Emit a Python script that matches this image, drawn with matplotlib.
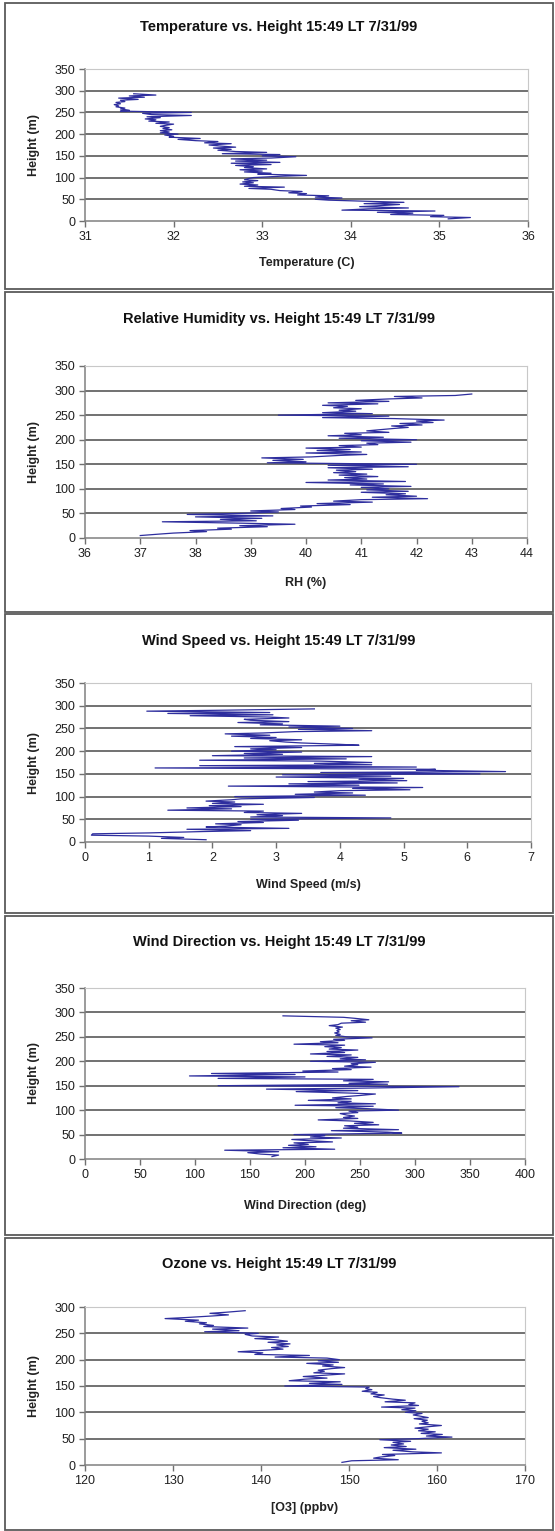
import numpy as np
import matplotlib.pyplot as plt
from matplotlib.patches import Rectangle

plt.rcParams['font.family'] = ['Liberation Sans', 'DejaVu Sans']

# sounding heights (m), shared by all five profiles
height = [5, 8, 10, 13, 15, 18, 20, 23, 25, 28,
          30, 33, 35, 38, 40, 43, 45, 48, 50, 53,
          55, 58, 60, 63, 65, 68, 70, 73, 75, 78,
          80, 83, 85, 88, 90, 93, 95, 98, 100, 103,
          105, 108, 110, 113, 115, 118, 120, 123, 125, 128,
          130, 133, 135, 138, 140, 143, 145, 148, 150, 153,
          155, 158, 160, 163, 165, 168, 170, 173, 175, 178,
          180, 183, 185, 188, 190, 193, 195, 198, 200, 203,
          205, 208, 210, 213, 215, 218, 220, 223, 225, 228,
          230, 233, 235, 238, 240, 243, 245, 248, 250, 253,
          255, 258, 260, 263, 265, 268, 270, 273, 275, 278,
          280, 283, 285, 288, 290, 293]

temperature = [35.1, 35.35, 34.9, 35.05, 34.45, 34.7, 34.3, 34.95, 33.9, 34.2,
               34.65, 34.1, 34.3, 34.55, 34.15, 34.6, 34.25, 33.75, 33.6, 33.9,
               33.6, 33.75, 33.4, 33.5, 33.3, 33.45, 33.2, 33.1, 32.85, 33.25,
               32.8, 32.95, 32.75, 32.9, 32.78, 32.95, 32.8, 32.85, 32.9, 33.2,
               33.5, 32.95, 33.1, 32.8, 33.0, 32.75, 33.05, 32.8, 32.9, 32.7,
               33.1, 32.65, 33.2, 32.7, 33.05, 32.65, 33.1, 33.38, 33.0, 33.2,
               32.55, 33.05, 32.7, 32.5, 32.65, 32.45, 32.7, 32.5, 32.4, 32.65,
               32.35, 32.5, 32.25, 32.05, 32.3, 31.95, 32.0, 31.9, 32.05, 31.85,
               31.95, 31.85, 31.98, 31.88, 31.95, 31.85, 31.9, 32.0, 31.8, 31.95,
               31.72, 31.8, 31.68, 31.85, 31.7, 32.2, 31.75, 31.65, 32.2, 31.4,
               31.5, 31.4, 31.45, 31.35, 31.38, 31.33, 31.4, 31.35, 31.45, 31.4,
               31.6, 31.38, 31.67, 31.5, 31.8, 31.55]

rh = [37.0, 37.35, 37.6, 38.2, 37.9, 38.65, 38.4, 39.3, 38.8, 39.8,
      38.9, 37.4, 39.1, 38.45, 39.2, 38.0, 39.4, 37.85, 38.8, 39.5,
      39.0, 39.8, 39.55, 40.1, 39.9, 40.8, 40.2, 41.2, 40.5, 41.0,
      42.2, 41.2, 42.0, 41.45, 41.8, 41.0, 41.85, 41.1, 41.5, 41.0,
      41.9, 40.8, 41.4, 40.0, 41.8, 40.4, 41.1, 40.7, 41.3, 40.6,
      41.1, 40.5, 40.9, 40.55, 41.2, 40.4, 41.85, 40.4, 42.0, 39.3,
      40.0, 39.4, 39.95, 39.2, 40.1, 40.6, 41.1, 40.0, 41.0, 40.2,
      40.8, 40.0, 41.0, 40.6, 41.3, 41.1, 41.9, 41.0, 42.0, 40.6,
      41.4, 40.4, 41.0, 40.7, 41.5, 41.1, 41.3, 41.6, 41.85, 41.55,
      42.1, 41.7, 42.3, 42.0, 42.5, 41.6, 40.3, 41.5, 39.5, 41.2,
      40.3, 40.9, 40.6, 41.0, 40.5, 40.75, 40.3, 41.3, 40.4, 41.5,
      40.9, 41.5, 42.1, 41.6, 42.7, 43.0]

wind_speed = [1.9, 1.2, 1.55, 1.0, 0.1, 0.12, 1.0, 1.85, 2.6, 1.6,
              3.2, 1.9, 2.2, 2.45, 2.05, 2.8, 2.4, 3.35, 2.6, 4.8,
              2.6, 3.1, 2.7, 3.4, 2.5, 2.8, 1.3, 2.3, 1.6, 2.45,
              1.95, 2.8, 2.0, 2.35, 1.9, 2.3, 2.45, 3.6, 2.35, 4.4,
              3.3, 4.2, 3.6, 4.0, 5.1, 4.2, 5.3, 2.25, 4.3, 3.2,
              4.9, 3.5, 5.05, 4.3, 5.0, 3.0, 4.8, 3.1, 6.2, 3.7,
              6.6, 5.2, 5.5, 1.1, 5.2, 1.8, 4.5, 3.6, 4.5, 3.7,
              1.8, 4.1, 2.5, 4.5, 2.0, 3.1, 2.5, 3.4, 2.3, 3.0,
              2.6, 3.4, 2.35, 4.3, 4.0, 3.4, 3.15, 2.9, 3.4, 2.6,
              3.0, 2.3, 2.9, 2.2, 2.8, 3.3, 4.5, 3.35, 4.2, 3.2,
              4.0, 2.75, 3.1, 2.4, 3.2, 2.6, 2.5, 3.2, 2.9, 1.65,
              2.95, 1.3, 2.9, 0.97, 2.1, 3.6]

wind_dir = [170, 176, 160, 148, 176, 127, 227, 180, 210, 185,
            203, 190, 225, 200, 188, 233, 205, 218, 190, 288,
            275, 224, 285, 235, 248, 236, 267, 245, 262, 240,
            212, 248, 235, 245, 238, 232, 248, 240, 285, 257,
            228, 262, 191, 264, 230, 242, 203, 242, 225, 238,
            250, 264, 240, 192, 248, 165, 250, 340, 121, 275,
            240, 276, 235, 262, 121, 200, 95, 191, 115, 230,
            198, 242, 225, 260, 236, 248, 242, 264, 205, 255,
            232, 248, 220, 242, 205, 236, 220, 248, 222, 233,
            218, 236, 190, 230, 214, 236, 226, 261, 238, 228,
            232, 227, 231, 229, 232, 228, 234, 222, 230, 233,
            255, 242, 258, 245, 235, 180]

ozone = [149.2, 150.3, 155.6, 152.8, 153.5, 155.2, 153.8, 160.5, 157.2, 155.0,
         157.6, 154.0, 156.5, 154.8, 156.2, 155.0, 157.0, 153.5, 157.8, 161.7,
         158.8, 160.6, 158.2, 159.8, 157.9, 159.0, 157.5, 159.2, 160.5, 158.0,
         159.0, 158.3, 158.9, 157.4, 159.0, 158.0, 157.3, 158.3, 156.4, 157.6,
         156.0, 157.5, 153.7, 157.9, 156.8, 157.5, 154.1, 156.4, 155.0, 153.5,
         152.8, 154.0, 152.5, 153.2, 151.5, 152.6, 151.9, 152.3, 142.7, 149.2,
         145.5, 149.0, 143.2, 145.0, 147.5, 144.8, 146.8, 149.5, 146.0, 147.2,
         146.5, 148.0, 149.5, 147.0, 148.2, 145.2, 148.8, 146.5, 148.9, 147.5,
         141.6, 145.5, 139.3, 140.2, 137.4, 140.5, 142.5, 141.2, 143.1, 141.8,
         143.3, 140.8, 143.0, 141.5, 139.3, 142.0, 139.0, 138.2, 139.7, 133.6,
         137.5, 134.5, 138.5, 133.5, 134.6, 133.0, 133.8, 131.4, 132.9, 129.1,
         131.5, 134.5, 136.3, 134.2, 136.0, 138.2]

titles = ["Temperature vs. Height 15:49 LT 7/31/99",
          "Relative Humidity vs. Height 15:49 LT 7/31/99",
          "Wind Speed vs. Height 15:49 LT 7/31/99",
          "Wind Direction vs. Height 15:49 LT 7/31/99",
          "Ozone vs. Height 15:49 LT 7/31/99"]
xlabels = ["Temperature (C)", "RH (%)", "Wind Speed (m/s)",
           "Wind Direction (deg)", "[O3] (ppbv)"]
xticks = [[31, 32, 33, 34, 35, 36],
          [36, 37, 38, 39, 40, 41, 42, 43, 44],
          [0, 1, 2, 3, 4, 5, 6, 7],
          [0, 50, 100, 150, 200, 250, 300, 350, 400],
          [120, 130, 140, 150, 160, 170]]
yticks = [list(range(0, 351, 50))] * 4 + [list(range(0, 301, 50))]
series = [temperature, rh, wind_speed, wind_dir, ozone]

# layout in pixels: panel box top/bottom, plot left/right/top/bottom, title y, xlabel y
W, H = 555, 1531
layout = [(3, 289, 85, 528, 69, 221, 27, 263),
          (292, 612, 85, 527, 366, 538, 319, 583),
          (614, 913, 85, 531, 683, 842, 641, 885),
          (916, 1235, 85, 525, 988, 1159, 942, 1206),
          (1238, 1530, 85, 525, 1307, 1465, 1264, 1508)]

fig = plt.figure(figsize=(W / 100, H / 100), dpi=100)

for i in range(5):
    bt, bb, pl, pr, pt, pb, ty, ly = layout[i]
    fig.patches.append(Rectangle((5 / W, 1 - bb / H), 548 / W, (bb - bt) / H,
                                 transform=fig.transFigure, fill=False,
                                 edgecolor='#5a5a5a', linewidth=1.3))
    ax = fig.add_axes([pl / W, 1 - pb / H, (pr - pl) / W, (pb - pt) / H])
    ax.plot(series[i], height, color='#2e2e9e', linewidth=0.9)
    ax.set_xlim(xticks[i][0], xticks[i][-1])
    ax.set_ylim(yticks[i][0], yticks[i][-1])
    ax.set_xticks(xticks[i])
    ax.set_yticks(yticks[i])
    ax.tick_params(direction='out', length=4, width=1, colors='#707070',
                   labelcolor='#202020', labelsize=9, pad=3)
    ax.yaxis.grid(True, color='#666666', linewidth=1.3)
    grid = ax.get_ygridlines()
    grid[0].set_visible(False)
    grid[-1].set_visible(False)
    ax.set_axisbelow(True)
    for s in ['left', 'bottom']:
        ax.spines[s].set_color('#808080')
        ax.spines[s].set_linewidth(1.1)
    for s in ['top', 'right']:
        ax.spines[s].set_color('#c8c8c8')
        ax.spines[s].set_linewidth(0.8)

    fig.text(279 / W, 1 - ty / H, titles[i], ha='center', va='center',
             fontsize=10.5, fontweight='bold', color='#111111')
    fig.text((pl + pr) / 2 / W, 1 - ly / H, xlabels[i], ha='center', va='center',
             fontsize=9, fontweight='bold', color='#222222')
    fig.text(34 / W, 1 - (pt + pb) / 2 / H, "Height (m)", ha='center', va='center',
             rotation=90, fontsize=9, fontweight='bold', color='#222222')

fig.savefig('out.png', dpi=100)
